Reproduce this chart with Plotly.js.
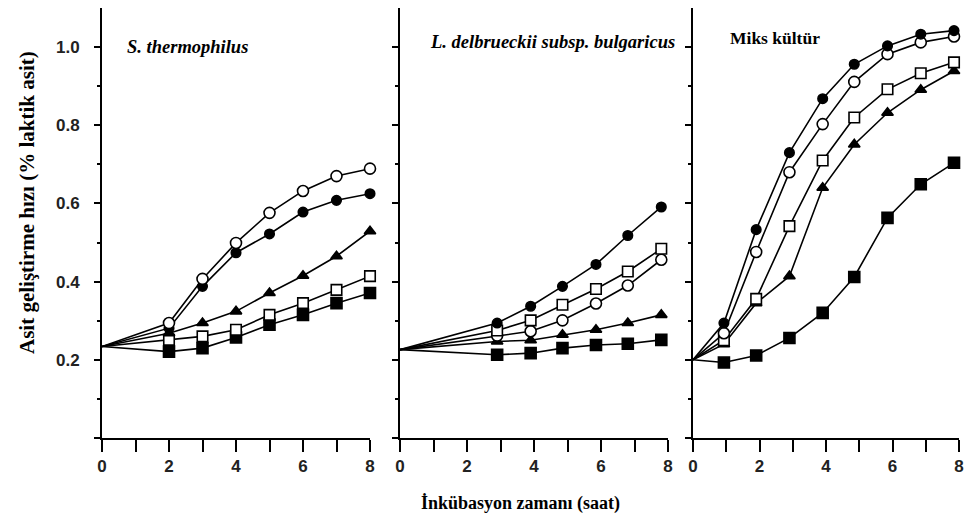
<!DOCTYPE html>
<html>
<head>
<meta charset="utf-8">
<script src="https://cdn.plot.ly/plotly-3.0.1.min.js"></script>
<style>html,body{margin:0;padding:0;background:#fff;}#chart{width:964px;height:526px;}</style>
</head>
<body>
<div id="chart"></div>
<script>
// ---- Data ----
// Panel 1: S. thermophilus
const hoursST = [0, 2, 3, 4, 5, 6, 7, 8];
const stOpenCircle   = [0.234, 0.294, 0.407, 0.499, 0.576, 0.632, 0.670, 0.689];
const stFilledCircle = [0.234, 0.281, 0.388, 0.474, 0.522, 0.578, 0.608, 0.625];
const stTriangle     = [0.234, 0.268, 0.294, 0.324, 0.371, 0.415, 0.465, 0.529];
const stOpenSquare   = [0.234, 0.251, 0.260, 0.277, 0.315, 0.345, 0.379, 0.414];
const stFilledSquare = [0.234, 0.221, 0.230, 0.257, 0.290, 0.315, 0.345, 0.371];

// Panel 2: L. delbrueckii subsp. bulgaricus
const hoursLB = [0, 2.9, 3.9, 4.85, 5.85, 6.8, 7.8];
const lbFilledCircle = [0.226, 0.294, 0.337, 0.388, 0.444, 0.518, 0.591];
const lbOpenSquare   = [0.226, 0.275, 0.301, 0.341, 0.381, 0.426, 0.484];
const lbOpenCircle   = [0.226, 0.262, 0.273, 0.301, 0.344, 0.390, 0.456];
const lbTriangle     = [0.226, 0.247, 0.250, 0.264, 0.277, 0.294, 0.315];
const lbFilledSquare = [0.226, 0.213, 0.217, 0.230, 0.238, 0.241, 0.251];

// Panel 3: Miks kültür
const hoursMK = [0, 0.93, 1.9, 2.9, 3.9, 4.85, 5.85, 6.85, 7.85];
const mkFilledCircle = [0.200, 0.294, 0.533, 0.730, 0.868, 0.956, 1.003, 1.033, 1.042];
const mkOpenCircle   = [0.200, 0.268, 0.476, 0.680, 0.803, 0.911, 0.982, 1.012, 1.027];
const mkOpenSquare   = [0.200, 0.250, 0.356, 0.542, 0.710, 0.820, 0.892, 0.933, 0.961];
const mkTriangle     = [0.200, 0.240, 0.345, 0.414, 0.640, 0.751, 0.832, 0.891, 0.939];
const mkFilledSquare = [0.200, 0.193, 0.211, 0.256, 0.320, 0.412, 0.563, 0.649, 0.704];

const panelTitles = ['<b><i>S. thermophilus</i></b>', '<b><i>L. delbrueckii subsp. bulgaricus</i></b>', '<b>Miks kültür</b>'];
const xTickVals = [0, 1, 2, 3, 4, 5, 6, 7, 8];
const xTickText = ['0', '', '2', '', '4', '', '6', '', '8'];
const yTickVals = [0, 0.2, 0.4, 0.6, 0.8, 1.0];
const yTickText = ['', '0.2', '0.4', '0.6', '0.8', '1.0'];
const yMinorVals = [0.1, 0.3, 0.5, 0.7, 0.9];
const yTitle = '<b>Asit geliştirme hızı (% laktik asit)</b>';
const xTitle = '<b>İnkübasyon zamanı (saat)</b>';

// ---- Styles ----
const styles = {
  filledCircle: {symbol: 'circle', size: 9.5, color: '#000'},
  openCircle:   {symbol: 'circle', size: 11, color: '#fff'},
  triangle:     {symbol: 'triangle-up', size: 10, color: '#000'},
  openSquare:   {symbol: 'square', size: 10.5, color: '#fff'},
  filledSquare: {symbol: 'square', size: 11, color: '#000'}
};

function trace(x, y, st, ax) {
  const sizes = x.map((v, i) => i === 0 ? 0 : st.size);
  return {
    x: x, y: y, type: 'scatter', mode: 'lines+markers',
    xaxis: 'x' + (ax === 1 ? '' : ax), yaxis: 'y' + (ax === 1 ? '' : ax),
    line: {color: '#000', width: 1.6},
    marker: {symbol: st.symbol, size: sizes, color: st.color, opacity: 1, line: {color: '#000', width: 1.6}},
    cliponaxis: false, showlegend: false, hoverinfo: 'skip'
  };
}

const data = [
  trace(hoursST, stFilledSquare, styles.filledSquare, 1),
  trace(hoursST, stOpenSquare, styles.openSquare, 1),
  trace(hoursST, stTriangle, styles.triangle, 1),
  trace(hoursST, stFilledCircle, styles.filledCircle, 1),
  trace(hoursST, stOpenCircle, styles.openCircle, 1),

  trace(hoursLB, lbFilledSquare, styles.filledSquare, 2),
  trace(hoursLB, lbTriangle, styles.triangle, 2),
  trace(hoursLB, lbOpenCircle, styles.openCircle, 2),
  trace(hoursLB, lbOpenSquare, styles.openSquare, 2),
  trace(hoursLB, lbFilledCircle, styles.filledCircle, 2),

  trace(hoursMK, mkFilledSquare, styles.filledSquare, 3),
  trace(hoursMK, mkTriangle, styles.triangle, 3),
  trace(hoursMK, mkOpenSquare, styles.openSquare, 3),
  trace(hoursMK, mkOpenCircle, styles.openCircle, 3),
  trace(hoursMK, mkFilledCircle, styles.filledCircle, 3)
];

const W = 964, H = 526;
const xDomains = [[102 / W, 370 / W], [400 / W, 668 / W], [693 / W, 959 / W]];
const yDomain = [88 / H, 518 / H];
const tickFont = {family: 'Liberation Sans, Arial, sans-serif', size: 17, color: '#222', weight: 'bold'};

function xAxis(i) {
  return {
    domain: xDomains[i], range: [0, 8], anchor: 'y' + (i === 0 ? '' : i + 1),
    showline: true, linecolor: '#000', linewidth: 2, showgrid: false, zeroline: false,
    ticks: 'outside', ticklen: 12, tickwidth: 2, tickcolor: '#000',
    tickmode: 'array', tickvals: xTickVals, ticktext: xTickText,
    tickfont: tickFont, fixedrange: true
  };
}
function yAxis(i) {
  return {
    domain: yDomain, range: [0, 1.1], anchor: 'x' + (i === 0 ? '' : i + 1),
    showline: true, linecolor: '#000', linewidth: 2, showgrid: false, zeroline: false,
    ticks: 'outside', ticklen: 6, tickwidth: 2, tickcolor: '#000',
    tickmode: 'array', tickvals: yTickVals, ticktext: yTickText,
    showticklabels: i === 0, ticklabelstandoff: 11,
    minor: {tickmode: 'array', tickvals: yMinorVals, ticks: 'outside', ticklen: 3, tickwidth: 2, tickcolor: '#000'},
    tickfont: tickFont, fixedrange: true
  };
}

const serif = '"Liberation Serif", "Times New Roman", serif';
const layout = {
  width: W, height: H,
  margin: {l: 0, r: 0, t: 0, b: 0},
  paper_bgcolor: '#fff', plot_bgcolor: '#fff',
  xaxis: xAxis(0), xaxis2: xAxis(1), xaxis3: xAxis(2),
  yaxis: yAxis(0), yaxis2: yAxis(1), yaxis3: yAxis(2),
  annotations: [
    {text: panelTitles[0], xref: 'paper', yref: 'paper', x: 125 / W, y: 1 - 47 / H, xanchor: 'left', yanchor: 'middle', showarrow: false, font: {family: serif, size: 18.5, color: '#000'}},
    {text: panelTitles[1], xref: 'paper', yref: 'paper', x: 428 / W, y: 1 - 42 / H, xanchor: 'left', yanchor: 'middle', showarrow: false, font: {family: serif, size: 18.5, color: '#000'}},
    {text: panelTitles[2], xref: 'paper', yref: 'paper', x: 728 / W, y: 1 - 38 / H, xanchor: 'left', yanchor: 'middle', showarrow: false, font: {family: serif, size: 17.5, color: '#000'}},
    {text: yTitle, xref: 'paper', yref: 'paper', x: 27 / W, y: 1 - 203 / H, xanchor: 'center', yanchor: 'middle', textangle: -90, showarrow: false,
     font: {family: serif, size: 21, color: '#000'}},
    {text: xTitle, xref: 'paper', yref: 'paper', x: 520 / W, y: 1 - 503 / H, xanchor: 'center', yanchor: 'middle', showarrow: false,
     font: {family: serif, size: 18, color: '#000'}}
  ]
};

Plotly.newPlot('chart', data, layout, {displayModeBar: false, staticPlot: true});
</script>
</body>
</html>
